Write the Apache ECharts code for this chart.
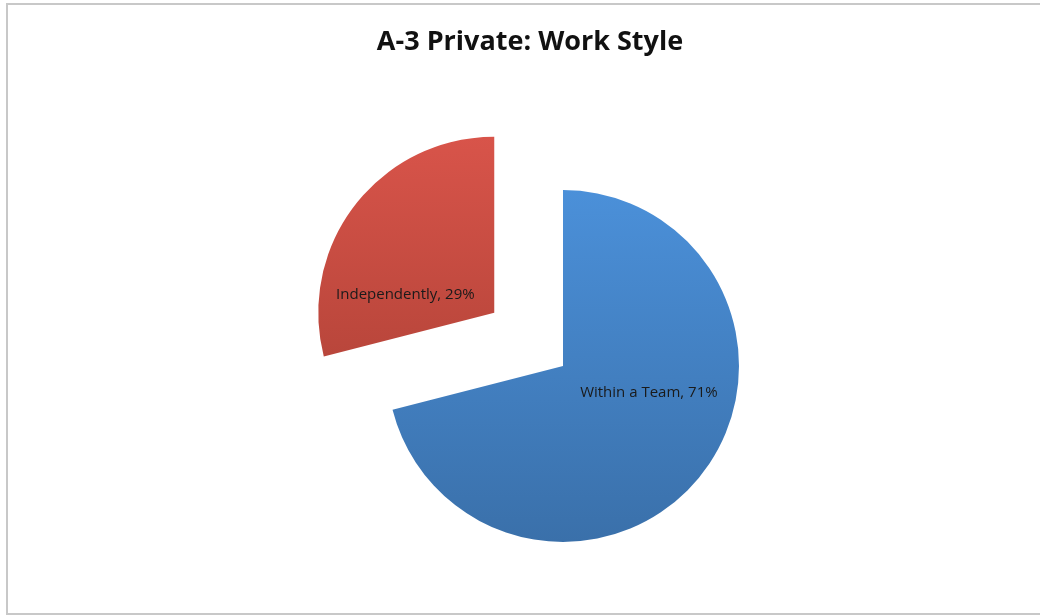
<!DOCTYPE html>
<html>
<head>
<meta charset="utf-8">
<style>
html,body{margin:0;padding:0;background:#fff;}
#chart{width:1040px;height:616px;}
</style>
<script src="https://cdn.jsdelivr.net/npm/echarts@6/dist/echarts.min.js"></script>
</head>
<body>
<div id="chart"></div>
<script>
const titleText = 'A-3 Private: Work Style';
const categories = ['Within a Team', 'Independently'];
const values = [71, 29];
const topColors = ['#4b90d9', '#d8544a'];
const bottomColors = ['#3a70aa', '#b9463b'];
const labelOffsets = [[14, -29], [-17, 38]];

const chart = echarts.init(document.getElementById('chart'), null, {renderer: 'canvas'});
const data = categories.map((c, i) => ({
  name: c,
  value: values[i],
  selected: i === 1,
  itemStyle: {
    color: new echarts.graphic.LinearGradient(0, 0, 0, 1, [
      {offset: 0, color: topColors[i]},
      {offset: 1, color: bottomColors[i]}
    ])
  },
  label: {offset: labelOffsets[i]},
  select: {label: {offset: labelOffsets[i]}}
}));

chart.setOption({
  animation: false,
  backgroundColor: '#ffffff',
  graphic: [{
    type: 'rect',
    shape: {x: 7, y: 4, width: 1040, height: 610},
    style: {fill: 'none', stroke: '#c8c8c8', lineWidth: 2},
    silent: true
  }],
  title: {
    text: titleText,
    left: 525,
    textAlign: 'center',
    top: 24,
    textStyle: {fontFamily: 'Open Sans', fontWeight: 'bold', fontSize: 27, color: '#111'}
  },
  series: [{
    type: 'pie',
    center: [563, 366],
    radius: [0, 176],
    startAngle: 90,
    clockwise: true,
    selectedMode: 'single',
    selectedOffset: 87,
    emphasis: {disabled: true},
    label: {
      show: true,
      position: 'inside',
      formatter: '{b}, {d}%',
      fontFamily: 'Open Sans',
      fontSize: 15,
      color: '#1a1a1a'
    },
    labelLine: {show: false},
    data: data
  }]
});
</script>
</body>
</html>
